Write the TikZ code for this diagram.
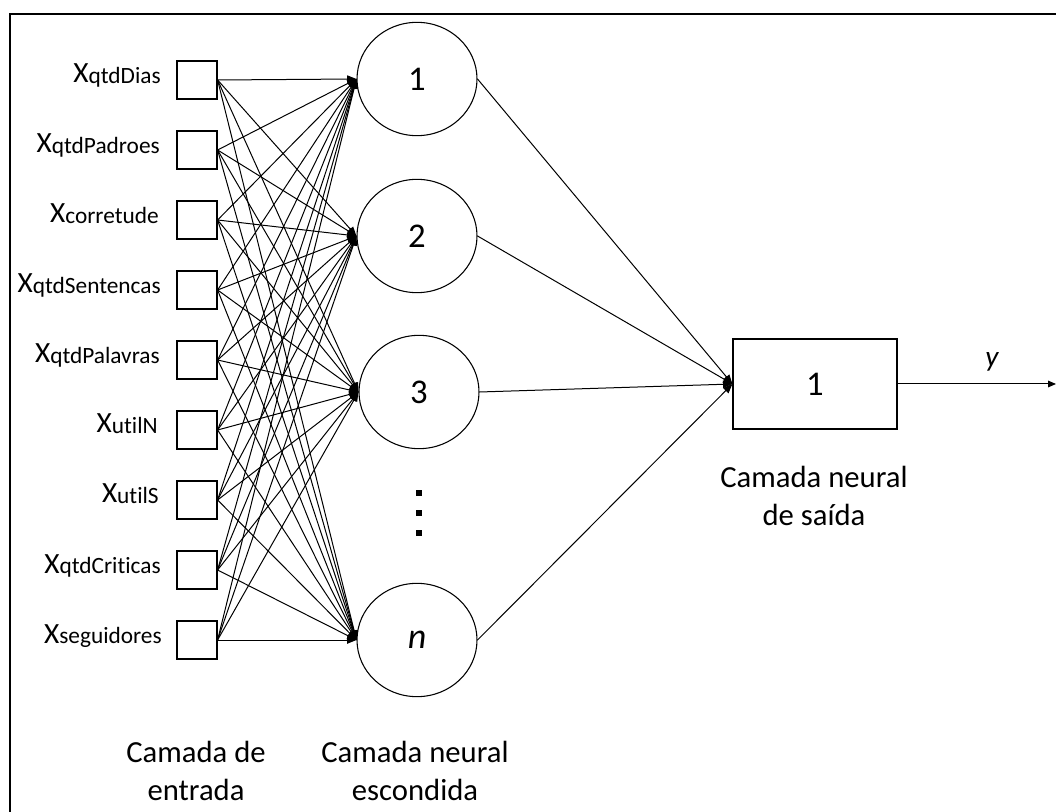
\documentclass[tikz,border=0pt]{standalone}
\usepackage{fontspec}
\setmainfont{Carlito}[Ligatures=NoCommon]
\usetikzlibrary{arrows.meta,shapes.geometric}
\newcommand{\xlab}[1]{{\fontsize{22}{26}\selectfont X}\raisebox{-0.6pt}{\fontsize{17.5}{20}\selectfont #1}}
\begin{document}
\begin{tikzpicture}[x=0.75pt,y=-0.75pt,
  inbox/.style={draw,line width=0.9pt,minimum width=30pt,minimum height=28.5pt,inner sep=0pt},
  hid/.style={draw,ellipse,line width=0.8pt,minimum width=90pt,minimum height=85pt,inner sep=0pt,font=\fontsize{26}{30}\selectfont},
  outbox/.style={draw,line width=0.9pt,minimum width=123pt,minimum height=67.5pt,inner sep=0pt,font=\fontsize{26}{30}\selectfont},
  conn/.style={line width=0.75pt,-{Triangle[length=7pt,width=5.5pt]}},
  lbl/.style={anchor=base east,inner sep=0pt},
  captext/.style={anchor=base,inner sep=0pt,font=\fontsize{23}{28}\selectfont},
  dotsq/.style={fill=black,minimum size=4.5pt,inner sep=0pt}]
\useasboundingbox (0,0) rectangle (1056,812);
% frame
\draw[line width=1.1pt] (10,812) -- (10,14) -- (1056,14);
% input boxes
\foreach \i/\y in {1/80,2/150,3/220,4/290,5/360,6/430,7/500,8/570,9/640}{
  \node[inbox] (i\i) at (197,\y) {};
}
% input labels
\node[lbl] (l1) at (161,83) {\xlab{qtdDias}};
\node[lbl] (l2) at (160,153) {\xlab{qtdPadroes}};
\node[lbl] (l3) at (159,223) {\xlab{corretude}};
\node[lbl] (l4) at (161,293) {\xlab{qtdSentencas}};
\node[lbl] (l5) at (160,363) {\xlab{qtdPalavras}};
\node[lbl] (l6) at (158,433) {\xlab{utilN}};
\node[lbl] (l7) at (159,503) {\xlab{utilS}};
\node[lbl] (l8) at (161,573) {\xlab{qtdCriticas}};
\node[lbl] (l9) at (162,643) {\xlab{seguidores}};
% hidden nodes
\node[hid] (h1) at (417,79) {1};
\node[hid] (h2) at (417,236) {2};
\node[hid] (h3) at (419,392) {3};
\node[hid,font=\fontsize{27}{30}\selectfont\itshape] (h4) at (417,640) {n};
% dots
\node[dotsq] (d1) at (419,493) {};
\node[dotsq] (d2) at (419,513) {};
\node[dotsq] (d3) at (419,533) {};
% output node
\node[outbox] (o) at (815,384) {1};
\coordinate (yend) at (1056,384);
\node[inner sep=0pt,font=\fontsize{22}{26}\selectfont\itshape] (ylab) at (992,362) {y};
% connections input -> hidden
\foreach \i in {1,...,9}{
  \foreach \h in {1,2,3,4}{
    \draw[conn] (i\i.east) -- (h\h.west);
  }
}
% hidden -> output
\foreach \h in {1,2,3,4}{
  \draw[conn] (h\h.east) -- (o.west);
}
\draw[line width=0.75pt,-{Triangle[length=6pt,width=5pt]}] (o.east) -- (yend);
% captions
\node[captext] (c1a) at (196,762) {Camada de};
\node[captext] (c1b) at (196,800) {entrada};
\node[captext] (c2a) at (415,762) {Camada neural};
\node[captext] (c2b) at (415,800) {escondida};
\node[captext] (c3a) at (814,487) {Camada neural};
\node[captext] (c3b) at (814,525) {de saída};
\end{tikzpicture}
\end{document}
